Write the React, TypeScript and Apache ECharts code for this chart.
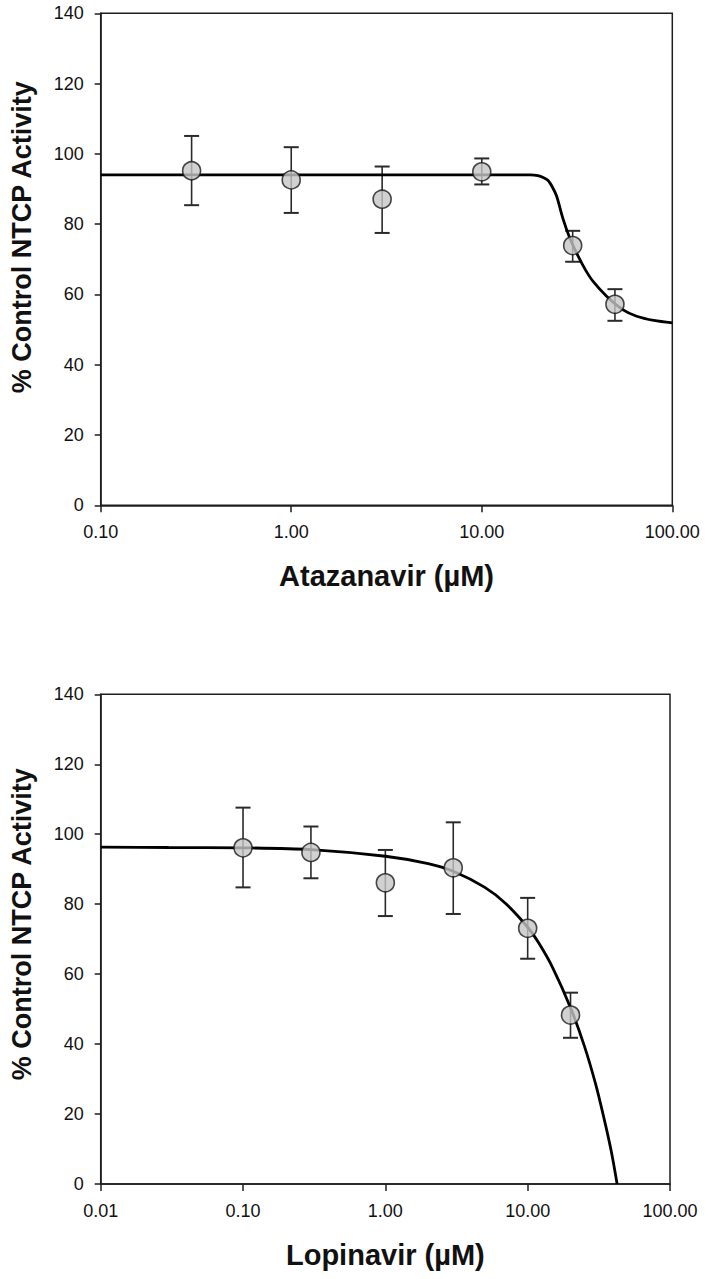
import React, { useEffect, useRef } from "react";
import * as echarts from "echarts";

// ---- Top panel: Atazanavir ----
const ataConc = [0.3, 1, 3, 10, 30, 50];
const ataMean = [95.2, 92.6, 87.1, 94.9, 73.9, 57.2];
const ataHigh = [105.1, 101.9, 96.4, 98.7, 78.1, 61.5];
const ataLow = [85.4, 83.2, 77.5, 91.3, 69.3, 52.5];
const ataFitX = [0.1, 1, 10, 16, 18, 19.7, 21, 22.3, 23.5, 24.7, 26.7, 29, 32.1, 35, 38.4, 45.2, 55.2, 65, 80, 100];
const ataFitY = [94, 94, 94, 94, 94, 93.8, 93.3, 92.4, 90.5, 88, 81.5, 76, 70.8, 67, 63.7, 59.5, 55.6, 53.8, 52.6, 51.9];

// ---- Bottom panel: Lopinavir ----
const lopConc = [0.1, 0.3, 1, 3, 10, 20];
const lopMean = [96.1, 94.8, 86.1, 90.4, 73.1, 48.3];
const lopHigh = [107.6, 102.2, 95.5, 103.4, 81.8, 54.7];
const lopLow = [84.8, 87.4, 76.6, 77.2, 64.4, 41.8];
const lopFitX = [0.01, 0.03, 0.1, 0.3, 1, 2, 3, 5, 7, 10, 12, 15, 20, 25, 30, 35, 39, 42.5];
const lopFitY = [96.3, 96.2, 96.1, 95.6, 93.7, 91.6, 89.4, 84.8, 80.2, 73.4, 68.8, 61.8, 50.4, 39.5, 28.6, 17.4, 8.6, 0];

const yTicks = { min: 0, max: 140, interval: 20 };
const xTitles = ["Atazanavir (µM)", "Lopinavir (µM)"];
const yTitle = "% Control NTCP Activity";
const xRanges = [
  [0.1, 100],
  [0.01, 100],
];

const FONT = "'Liberation Sans', Arial, Helvetica, sans-serif";
const AXIS_COLOR = "#1e1e1e";

function zip(a: number[], b: number[]) {
  return a.map((v, i) => [v, b[i]]);
}

function errData(x: number[], lo: number[], hi: number[]) {
  return x.map((v, i) => [v, lo[i], hi[i]]);
}

function errorRender(params: any, api: any) {
  const x = api.value(0);
  const lo = api.coord([x, api.value(1)]);
  const hi = api.coord([x, api.value(2)]);
  const w = 7.5;
  const style = { stroke: "#2a2a2a", lineWidth: 1.6 };
  return {
    type: "group",
    children: [
      { type: "line", shape: { x1: lo[0], y1: lo[1], x2: hi[0], y2: hi[1] }, style },
      { type: "line", shape: { x1: hi[0] - w, y1: hi[1], x2: hi[0] + w, y2: hi[1] }, style: { ...style, lineWidth: 2 } },
      { type: "line", shape: { x1: lo[0] - w, y1: lo[1], x2: lo[0] + w, y2: lo[1] }, style: { ...style, lineWidth: 2 } },
    ],
  };
}

function buildOption() {
  const grids = [
    { left: 100.7, top: 13.3, width: 571.6, height: 492 },
    { left: 100.7, top: 694.3, width: 569.3, height: 489.7 },
  ].map((g) => ({
    ...g,
    show: true,
    borderColor: AXIS_COLOR,
    borderWidth: 1.5,
    backgroundColor: "transparent",
  }));

  const xAxis = [0, 1].map((i) => ({
    type: "log",
    logBase: 10,
    gridIndex: i,
    min: xRanges[i][0],
    max: xRanges[i][1],
    name: xTitles[i],
    nameLocation: "middle",
    nameGap: 56,
    nameTextStyle: { fontFamily: FONT, fontSize: 29, fontWeight: "bold", color: "#111" },
    axisLine: { show: true, lineStyle: { color: AXIS_COLOR, width: 1.5 } },
    axisTick: { show: true, inside: false, length: 7, lineStyle: { color: AXIS_COLOR, width: 1.5 } },
    minorTick: { show: false },
    splitLine: { show: false },
    axisLabel: {
      fontFamily: FONT,
      fontSize: 18,
      color: "#111",
      margin: 18,
      formatter: (v: number) => Number(v).toFixed(2),
    },
  }));

  const yAxis = [0, 1].map((i) => ({
    type: "value",
    gridIndex: i,
    min: yTicks.min,
    max: yTicks.max,
    interval: yTicks.interval,
    name: yTitle,
    nameLocation: "middle",
    nameRotate: 90,
    nameGap: 65,
    nameTextStyle: {
      fontFamily: FONT,
      fontSize: 27,
      fontWeight: "bold",
      color: "#111",
      padding: [0, 0, 0, i === 0 ? 44 : 30],
    },
    axisLine: { show: true, lineStyle: { color: AXIS_COLOR, width: 1.5 } },
    axisTick: { show: true, inside: false, length: 6, lineStyle: { color: AXIS_COLOR, width: 1.5 } },
    splitLine: { show: false },
    axisLabel: { fontFamily: FONT, fontSize: 18, color: "#111", margin: 17 },
  }));

  const panels = [
    { conc: ataConc, mean: ataMean, lo: ataLow, hi: ataHigh, fx: ataFitX, fy: ataFitY },
    { conc: lopConc, mean: lopMean, lo: lopLow, hi: lopHigh, fx: lopFitX, fy: lopFitY },
  ];

  const series: any[] = [];
  panels.forEach((p, i) => {
    series.push({
      type: "custom",
      xAxisIndex: i,
      yAxisIndex: i,
      renderItem: errorRender,
      encode: { x: 0, y: [1, 2] },
      data: errData(p.conc, p.lo, p.hi),
      z: 2,
      silent: true,
    });
    series.push({
      type: "line",
      xAxisIndex: i,
      yAxisIndex: i,
      data: zip(p.fx, p.fy),
      showSymbol: false,
      symbol: "none",
      smooth: 0.3,
      lineStyle: { color: "#000", width: 2.8 },
      z: 3,
      silent: true,
    });
    series.push({
      type: "scatter",
      xAxisIndex: i,
      yAxisIndex: i,
      data: zip(p.conc, p.mean),
      symbol: "circle",
      symbolSize: 18,
      itemStyle: { color: "#c6c6c6", borderColor: "#1a1a1a", borderWidth: 1.6 },
      z: 4,
      silent: true,
    });
  });

  return {
    animation: false,
    backgroundColor: "#ffffff",
    textStyle: { fontFamily: FONT },
    grid: grids,
    xAxis,
    yAxis,
    series,
  };
}

export default function App() {
  const ref = useRef<HTMLDivElement>(null);
  useEffect(() => {
    if (!ref.current) return;
    const chart = echarts.init(ref.current, null, { renderer: "svg" });
    chart.setOption(buildOption() as any);
    return () => {
      chart.dispose();
    };
  }, []);
  return (
    <div
      ref={ref}
      style={{ position: "fixed", left: 0, top: 0, width: 709, height: 1279, background: "#fff" }}
    />
  );
}
